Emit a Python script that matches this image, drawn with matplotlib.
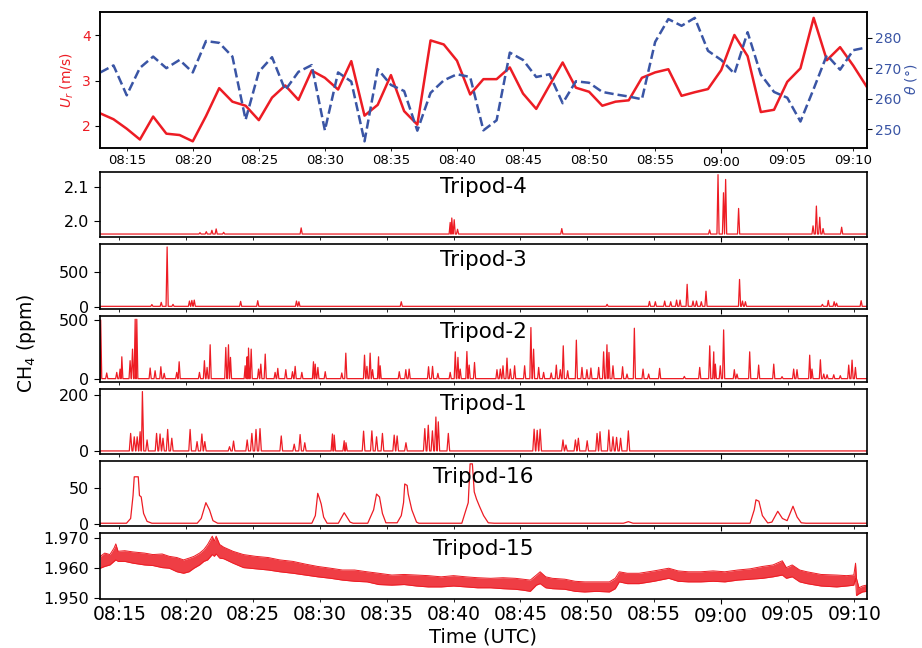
import datetime as dt
import matplotlib
matplotlib.use("Agg")
import matplotlib.pyplot as plt
import matplotlib.dates as mdates

# wind, one value per minute, 08:13 ... 09:11 (minutes after 08:00)
wind_min = list(range(13, 72))
wind_speed = [2.27, 2.14, 1.93, 1.69, 2.20, 1.82, 1.79, 1.65, 2.21, 2.83,
              2.53, 2.44, 2.12, 2.62, 2.89, 2.57, 3.22, 3.06, 2.80, 3.43,
              2.22, 2.46, 3.12, 2.32, 2.02, 3.89, 3.80, 3.44, 2.69, 3.03,
              3.03, 3.29, 2.71, 2.37, 2.89, 3.40, 2.84, 2.75, 2.44, 2.53,
              2.56, 3.06, 3.18, 3.25, 2.66, 2.74, 2.81, 3.23, 4.01, 3.54,
              2.30, 2.35, 2.97, 3.27, 4.39, 3.45, 3.74, 3.33, 2.87]
wind_dir = [268.7, 271.0, 261.2, 270.2, 273.9, 270.1, 272.8, 268.7, 279.0, 278.4,
            273.9, 253.2, 268.9, 273.7, 262.9, 268.9, 271.1, 249.7, 268.7, 265.7,
            246.1, 269.8, 264.6, 262.6, 249.6, 262.0, 266.1, 268.1, 267.2, 249.7,
            253.0, 275.2, 272.8, 267.2, 268.1, 258.6, 265.8, 265.3, 262.3, 261.5,
            260.8, 259.9, 278.7, 286.2, 284.0, 286.6, 275.8, 272.8, 268.3, 281.9,
            268.0, 262.3, 260.4, 252.6, 263.3, 274.4, 269.6, 276.0, 276.9]

# CH4 record window (minutes after 08:00)
ch4_start = 13.57
ch4_end = 70.9

# Tripod-4: background and peaks
t4_base = 1.961
t4_peak_t = [21.03, 21.5, 21.92, 22.24, 22.8, 28.6, 39.75, 39.87, 40.05, 40.3,
             48.1, 59.16, 59.79, 60.2, 60.36, 61.33, 66.9, 67.15, 67.4, 67.65, 69.04]
t4_peak_v = [1.965, 1.968, 1.972, 1.976, 1.966, 1.979, 1.995, 2.008, 2.003, 1.975,
             1.977, 1.973, 2.135, 2.082, 2.121, 2.036, 1.985, 2.043, 2.010, 1.977, 1.981]

# Tripod-3
t3_base = 4
t3_peak_t = [17.43, 18.13, 18.57, 19.01, 20.24, 20.42, 20.6, 24.07, 25.35, 28.25,
             28.43, 36.09, 51.49, 54.66, 55.1, 55.8, 56.25, 56.69, 56.95, 57.48,
             57.92, 58.18, 58.54, 58.89, 61.4, 61.62, 61.84, 67.6, 68.04, 68.48,
             68.66, 70.5]
t3_peak_v = [30, 62, 867, 33, 81, 90, 95, 76, 86, 81,
             71, 71, 33, 76, 71, 81, 71, 95, 95, 324,
             81, 81, 71, 224, 395, 81, 71, 33, 90, 71,
             50, 86]

# Tripod-2
t2_base = 3
t2_peak_t = [13.60, 14.05, 14.80, 15.05, 15.18, 15.80, 15.98, 16.18, 16.30, 17.30,
             17.67, 18.10, 18.35, 19.29, 19.47, 20.99, 21.36, 21.56, 21.79, 22.96,
             23.16, 23.31, 24.41, 24.56, 24.66, 24.86, 25.41, 25.58, 25.91, 26.65,
             26.85, 27.45, 27.95, 28.15, 28.65, 29.52, 29.65, 29.85, 30.40, 31.64,
             31.94, 33.34, 33.52, 33.76, 33.94, 34.39, 34.51, 35.94, 36.43, 36.68,
             38.13, 38.43, 38.83, 39.75, 40.13, 40.33, 40.50, 41.00, 41.17, 41.57,
             43.25, 43.50, 43.70, 44.00, 44.25, 44.57, 45.32, 45.79, 45.99, 46.37,
             46.74, 47.31, 47.69, 47.99, 48.21, 48.54, 49.19, 49.61, 49.98, 50.28,
             50.86, 51.23, 51.48, 51.63, 51.93, 52.65, 52.98, 53.53, 54.18, 54.60,
             55.42, 57.27, 58.42, 59.17, 59.47, 59.59, 59.96, 60.21, 61.01, 61.21,
             62.16, 62.83, 63.96, 64.58, 65.45, 65.70, 66.65, 66.82, 67.45, 67.70,
             67.95, 68.45, 68.94, 69.57, 69.82, 70.07]
t2_peak_v = [500, 51, 56, 84, 188, 155, 253, 506, 506, 93,
             70, 104, 48, 56, 146, 56, 155, 98, 290, 267,
             290, 183, 112, 188, 262, 253, 84, 126, 211, 56,
             90, 79, 62, 107, 56, 146, 126, 98, 62, 51,
             219, 202, 107, 219, 79, 188, 112, 62, 79, 84,
             104, 107, 48, 56, 230, 183, 84, 233, 118, 140,
             79, 84, 112, 177, 84, 112, 112, 436, 253, 98,
             56, 51, 118, 79, 281, 70, 329, 98, 79, 93,
             98, 230, 290, 225, 112, 104, 42, 430, 84, 42,
             90, 22, 98, 281, 230, 126, 112, 416, 79, 42,
             230, 118, 126, 20, 84, 79, 202, 84, 163, 42,
             36, 36, 28, 118, 160, 98]

# Tripod-1
t1_base = 2
t1_peak_t = [15.84, 16.11, 16.33, 16.55, 16.72, 17.07, 17.78, 18.04, 18.26, 18.61,
             18.92, 20.29, 20.81, 21.17, 21.39, 23.24, 23.54, 24.56, 24.91, 25.22,
             25.52, 27.11, 28.08, 28.52, 28.87, 30.94, 31.07, 31.82, 31.95, 33.27,
             33.89, 34.24, 34.68, 35.56, 35.78, 36.44, 37.85, 38.11, 38.42, 38.68,
             38.86, 39.61, 46.03, 46.26, 46.48, 48.19, 48.41, 49.12, 49.34, 50.00,
             50.74, 50.96, 51.62, 51.93, 52.20, 52.50, 53.08]
t1_peak_v = [64, 52, 52, 70, 212, 41, 64, 62, 47, 78,
             47, 78, 35, 62, 35, 17, 37, 41, 64, 78,
             81, 55, 26, 60, 31, 62, 58, 38, 31, 72,
             73, 52, 64, 58, 55, 31, 81, 93, 73, 122,
             105, 64, 79, 75, 79, 41, 23, 41, 47, 38,
             64, 70, 76, 52, 50, 47, 73]

# Tripod-16: traced outline
t16_t = [13.57, 15.53, 15.84, 16.02, 16.11, 16.41, 16.50, 16.63, 16.81, 17.07,
         17.43, 20.82, 21.12, 21.47, 21.74, 22.00, 22.35, 29.40, 29.66, 29.84,
         29.97, 30.10, 30.28, 30.54, 31.38, 31.82, 32.26, 32.48, 33.58, 34.02,
         34.24, 34.46, 34.68, 34.94, 35.78, 36.09, 36.26, 36.35, 36.53, 36.61,
         36.88, 37.23, 37.40, 40.62, 40.93, 41.10, 41.24, 41.41, 41.55, 41.72,
         41.94, 42.25, 42.60, 43.04, 52.72, 53.08, 53.43, 62.19, 62.50, 62.63,
         62.85, 63.11, 63.51, 63.82, 64.26, 64.61, 64.96, 65.40, 65.71, 66.02,
         66.37, 70.90]
t16_v = [1.4, 1.4, 8, 40, 66, 66, 40, 38, 15, 4,
         1.4, 1.4, 8, 30, 20, 5, 1.4, 1.4, 12, 43,
         36, 28, 10, 1.4, 1.4, 16, 3, 1.4, 1.4, 20,
         42, 38, 15, 2, 2, 12, 30, 56, 54, 42,
         20, 3, 1.4, 1.4, 20, 30, 84, 84, 45, 35,
         25, 12, 2, 1.4, 1.4, 3.6, 1.4, 1.4, 20, 34,
         32, 12, 1.8, 3, 18, 8, 5, 25, 10, 2,
         1.4, 1.4]

# Tripod-15: upper / lower edge of the noisy band
t15_t = [13.57, 13.9, 14.29, 14.6, 14.73, 14.9, 15.4, 16.0, 16.88, 17.5,
         18.2, 18.73, 19.3, 19.8, 20.21, 20.58, 21.0, 21.32, 21.6, 21.95,
         22.1, 22.24, 22.5, 22.8, 23.5, 24.28, 25.2, 26.13, 27.0, 27.98,
         28.9, 29.83, 30.8, 31.68, 32.6, 33.53, 34.4, 35.38, 36.3, 37.23,
         38.1, 39.08, 40.0, 40.93, 41.8, 42.78, 43.7, 44.63, 45.2, 45.74,
         46.2, 46.48, 46.9, 47.4, 48.33, 49.1, 49.81, 50.7, 51.66, 52.1,
         52.4, 53.0, 53.88, 55.0, 56.1, 56.8, 57.57, 58.5, 59.42, 60.3,
         61.27, 62.2, 63.12, 63.9, 64.6, 64.9, 65.34, 65.9, 66.45, 67.5,
         68.67, 69.4, 69.95, 70.08, 70.15, 70.34, 70.6, 70.9]
t15_hi = [1.9639, 1.9650, 1.9645, 1.9667, 1.9681, 1.9656, 1.9658, 1.9654, 1.9650, 1.9645,
          1.9647, 1.9639, 1.9635, 1.9627, 1.9633, 1.9639, 1.9650, 1.9662, 1.9679, 1.9707,
          1.9690, 1.9707, 1.9679, 1.9670, 1.9656, 1.9645, 1.9639, 1.9635, 1.9627, 1.9622,
          1.9613, 1.9605, 1.9599, 1.9593, 1.9593, 1.9587, 1.9582, 1.9576, 1.9578, 1.9576,
          1.9574, 1.9570, 1.9574, 1.9570, 1.9567, 1.9565, 1.9567, 1.9565, 1.9562, 1.9559,
          1.9576, 1.9587, 1.9570, 1.9565, 1.9562, 1.9555, 1.9553, 1.9553, 1.9553, 1.9565,
          1.9587, 1.9582, 1.9582, 1.9590, 1.9599, 1.9590, 1.9587, 1.9587, 1.9590, 1.9587,
          1.9593, 1.9597, 1.9605, 1.9610, 1.9624, 1.9601, 1.9610, 1.9593, 1.9587, 1.9578,
          1.9576, 1.9574, 1.9576, 1.9616, 1.9565, 1.9533, 1.9539, 1.9542]
t15_lo = [1.9599, 1.9605, 1.9610, 1.9622, 1.9627, 1.9622, 1.9622, 1.9616, 1.9610, 1.9608,
          1.9601, 1.9599, 1.9587, 1.9582, 1.9587, 1.9599, 1.9610, 1.9622, 1.9627, 1.9645,
          1.9639, 1.9647, 1.9633, 1.9631, 1.9616, 1.9601, 1.9597, 1.9593, 1.9587, 1.9582,
          1.9576, 1.9570, 1.9565, 1.9559, 1.9555, 1.9553, 1.9544, 1.9542, 1.9544, 1.9539,
          1.9536, 1.9536, 1.9539, 1.9536, 1.9533, 1.9533, 1.9530, 1.9528, 1.9525, 1.9521,
          1.9542, 1.9547, 1.9533, 1.9530, 1.9528, 1.9521, 1.9519, 1.9521, 1.9519, 1.9530,
          1.9553, 1.9547, 1.9547, 1.9555, 1.9565, 1.9555, 1.9553, 1.9553, 1.9555, 1.9553,
          1.9559, 1.9562, 1.9565, 1.9570, 1.9576, 1.9565, 1.9570, 1.9553, 1.9547, 1.9539,
          1.9536, 1.9539, 1.9542, 1.9565, 1.9507, 1.9513, 1.9519, 1.9521]

panel_names = ["Tripod-4", "Tripod-3", "Tripod-2", "Tripod-1", "Tripod-16", "Tripod-15"]
panel_yticks = [[2.0, 2.1], [0, 500], [0, 500], [0, 200], [0, 50], [1.950, 1.960, 1.970]]
panel_yfmt = ["%.1f", "%d", "%d", "%d", "%d", "%.3f"]

red = "#ed1c24"
blue = "#3a55a5"
day = dt.datetime(2019, 6, 1, 8, 0)


def to_time(minutes):
    return [day + dt.timedelta(minutes=m) for m in minutes]


def spike_line(peak_t, peak_v, base, half=0.08):
    pts = [(ch4_start, base), (ch4_end, base)]
    for t, v in zip(peak_t, peak_v):
        pts += [(t - half, base), (t, v), (t + half, base)]
    pts.sort()
    return [p[0] for p in pts], [p[1] for p in pts]


def time_axis(ax, size):
    fmt = mdates.DateFormatter("%H:%M")
    ax.xaxis.set_major_locator(mdates.HourLocator())
    ax.xaxis.set_minor_locator(mdates.MinuteLocator(byminute=range(0, 60, 5)))
    ax.xaxis.set_major_formatter(fmt)
    ax.xaxis.set_minor_formatter(fmt)
    ax.tick_params(axis="x", which="major", length=3.5, pad=2.5, labelsize=size)
    ax.tick_params(axis="x", which="minor", length=2, pad=2.5, labelsize=size)


fig = plt.figure(figsize=(9.22, 6.48), dpi=100)
left, width = 100.3 / 922, 766.2 / 922

# wind panel
ax_u = fig.add_axes([left, 1 - 147.5 / 648, width, 135.8 / 648])
ax_th = ax_u.twinx()
wt = to_time(wind_min)
ax_u.plot(wt, wind_speed, color=red, lw=1.8)
ax_th.plot(wt, wind_dir, color=blue, lw=1.8, ls="--")
ax_u.set_xlim(wt[0], wt[-1])
ax_u.set_yticks([2, 3, 4])
ax_th.set_yticks([250, 260, 270, 280])
ax_u.set_ylabel("$U_r$ (m/s)", color=red, fontsize=10)
ax_th.set_ylabel(r"$\theta$ (°)", color=blue, fontsize=10, labelpad=1)
ax_u.tick_params(axis="y", labelcolor=red, labelsize=10)
ax_th.tick_params(axis="y", labelcolor=blue, labelsize=10, pad=2.5)
time_axis(ax_u, 9.5)
for ax in (ax_u, ax_th):
    for s in ax.spines.values():
        s.set_linewidth(1.1)

# CH4 panels
series = [
    spike_line(t4_peak_t, t4_peak_v, t4_base),
    spike_line(t3_peak_t, t3_peak_v, t3_base),
    spike_line(t2_peak_t, t2_peak_v, t2_base),
    spike_line(t1_peak_t, t1_peak_v, t1_base, half=0.1),
    (t16_t, t16_v),
    None,
]
axes = []
for i, name in enumerate(panel_names):
    top = 171.7 + i * 72.3
    ax = fig.add_axes([left, 1 - (top + 65.3) / 648, width, 65.3 / 648])
    if series[i] is not None:
        xs, ys = series[i]
        ax.plot(to_time(xs), ys, color=red, lw=0.9)
    else:
        tt = to_time(t15_t)
        ax.fill_between(tt, t15_lo, t15_hi, color=red, alpha=0.85, lw=0)
        ax.plot(tt, t15_hi, color=red, lw=0.7)
        ax.plot(tt, t15_lo, color=red, lw=0.7)
    ax.set_xlim(to_time([ch4_start, ch4_end]))
    ax.set_yticks(panel_yticks[i])
    ax.set_yticklabels([panel_yfmt[i] % v for v in panel_yticks[i]])
    ax.tick_params(axis="y", labelsize=11.5, length=4.5)
    time_axis(ax, 13.5)
    if i < len(panel_names) - 1:
        ax.tick_params(axis="x", which="both", labelbottom=False)
    for s in ax.spines.values():
        s.set_linewidth(1.2)
    ax.text(0.5, 0.76, name, transform=ax.transAxes, ha="center", va="center",
            fontsize=15.5)
    axes.append(ax)

axes[-1].set_xlabel("Time (UTC)", fontsize=14, labelpad=1)
fig.text(27 / 922, 1 - 343 / 648, "CH$_4$ (ppm)", rotation=90, ha="center",
         va="center", fontsize=13.5)

fig.savefig("out.png", dpi=100)
